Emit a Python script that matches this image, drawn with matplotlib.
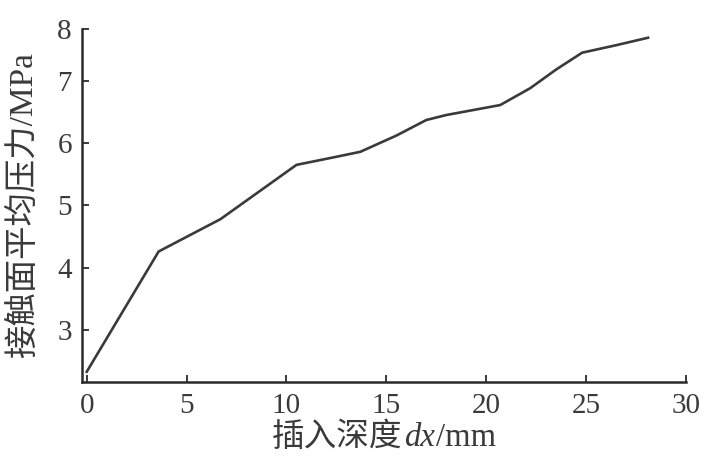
import matplotlib
matplotlib.use("Agg")
import matplotlib.pyplot as plt
from matplotlib.offsetbox import TextArea, HPacker, AnchoredOffsetbox

# Data
depth_mm = [0.0, 3.6, 6.7, 10.5, 12.5, 13.7, 15.5, 17.0, 18.0, 20.7, 22.2, 23.5, 24.8, 26.5, 28.1]
pressure_mpa = [2.33, 4.26, 4.78, 5.65, 5.78, 5.86, 6.12, 6.37, 6.45, 6.61, 6.88, 7.18, 7.45, 7.57, 7.69]
x_ticks = [0, 5, 10, 15, 20, 25, 30]
y_ticks = [3, 4, 5, 6, 7]
x_label_cn = "插入深度"
x_label_var = "dx"
x_label_unit = "/mm"
y_label = "接触面平均压力/MPa"

FAM = ['Liberation Serif', 'Noto Sans CJK SC']
plt.rcParams['font.family'] = FAM

txt = '#3a3a3a'
fig = plt.figure(figsize=(7.13, 4.65), dpi=100)
ax = fig.add_axes([0.1146, 0.179, 0.8475, 0.7586])

ax.plot(depth_mm, pressure_mpa, color='#3a3a3a', lw=1.9)

ax.set_xlim(-0.25, 30)
ax.set_ylim(2.17, 7.83)
ax.set_xticks(x_ticks)
ax.set_yticks(y_ticks + [7.83])
ax.set_yticklabels([str(t) for t in y_ticks] + ['8'])

for s in ['top', 'right']:
    ax.spines[s].set_visible(False)
for s in ['left', 'bottom']:
    ax.spines[s].set_linewidth(1.8)
    ax.spines[s].set_color('#2a2a2a')

ax.tick_params(axis='both', direction='in', length=5, width=1.3, colors='#2a2a2a',
               labelcolor=txt, labelsize=21)
ax.tick_params(axis='x', pad=8)
ax.tick_params(axis='y', pad=7)

# x label built from pieces: Chinese, italic variable, unit
fs = 23.5
parts = [
    TextArea(x_label_cn, textprops=dict(fontsize=fs, color=txt, family=['Noto Sans CJK SC'])),
    TextArea(x_label_var, textprops=dict(fontsize=fs, color=txt, family=['Liberation Serif'], style='italic')),
    TextArea(x_label_unit, textprops=dict(fontsize=fs, color=txt, family=['Liberation Serif'])),
]
box = HPacker(children=parts, align='baseline', pad=0, sep=1)
anch = AnchoredOffsetbox(loc='upper center', child=box, pad=0, borderpad=0, frameon=False,
                         bbox_to_anchor=(0.5, -0.112), bbox_transform=ax.transAxes)
ax.add_artist(anch)

ax.set_ylabel(y_label, fontsize=24, color=txt)
ax.yaxis.set_label_coords(-0.07, 0.5)

fig.savefig('out.png', dpi=100)
